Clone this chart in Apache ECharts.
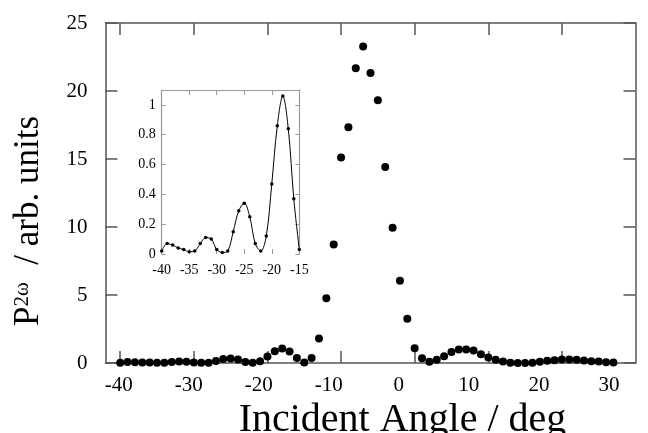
<!DOCTYPE html>
<html>
<head>
<meta charset="utf-8">
<script src="https://cdn.jsdelivr.net/npm/echarts@6/dist/echarts.min.js"></script>
<style>
  html, body { margin: 0; padding: 0; background: #fff; }
  #main { width: 648px; height: 433px; }
</style>
</head>
<body>
<div id="main"></div>
<script>
// incident angle (deg) and SHG signal
var angles = [-40, -39, -38, -37, -36, -35, -34, -33, -32, -31, -30, -29, -28, -27, -26, -25, -24, -23, -22, -21,
  -20, -19, -18, -17, -16, -15, -14, -13, -12, -11, -10, -9, -8, -7, -6, -5, -4, -3, -2, -1,
  0, 1, 2, 3, 4, 5, 6, 7, 8, 9, 10, 11, 12, 13, 14, 15, 16, 17, 18, 19,
  20, 21, 22, 23, 24, 25, 26, 27];
var power = [0.02, 0.07, 0.06, 0.04, 0.03, 0.015, 0.02, 0.07, 0.11, 0.10, 0.03, 0.01, 0.02, 0.15, 0.29, 0.34, 0.25, 0.07, 0.02, 0.12,
  0.47, 0.86, 1.06, 0.84, 0.37, 0.03, 0.37, 1.81, 4.76, 8.72, 15.11, 17.33, 21.67, 23.28, 21.32, 19.32, 14.42, 9.94, 6.05, 3.26,
  1.09, 0.35, 0.09, 0.23, 0.50, 0.80, 0.99, 0.99, 0.92, 0.65, 0.40, 0.23, 0.11, 0.01, 0.0, 0.0, 0.01, 0.09, 0.16, 0.21,
  0.26, 0.26, 0.23, 0.18, 0.13, 0.11, 0.06, 0.04];

// inset: the -40 .. -15 part, enlarged
var insetAngles = angles.slice(0, 26);
var insetPower = power.slice(0, 26);

var xTicks = [-40, -30, -20, -10, 0, 10, 20];
var xLabels = [-40, -30, -20, -10, 0, 10, 20, 30];
var insetYLabels = [0, 0.2, 0.4, 0.6, 0.8, 1];

function pairs(xs, ys) {
  var out = [];
  for (var i = 0; i < xs.length; i++) out.push([xs[i], ys[i]]);
  return out;
}

function init_chart(container) {
  var myChart = echarts.init(document.getElementById(container), null, { renderer: "canvas" });
  var serif = "Liberation Serif";
  var frame = { show: true, onZero: false, lineStyle: { color: "#555", width: 1.5 } };
  var frameIn = { show: true, onZero: false, lineStyle: { color: "#999", width: 1.2 } };

  var option = {
    animation: false,
    grid: [
      { left: 105.5, top: 23, width: 530, height: 340, outerBoundsMode: "none" },
      { left: 161.7, top: 90, width: 137.6, height: 164, outerBoundsMode: "none" },
    ],
    xAxis: [
      {
        gridIndex: 0, type: "value", position: "bottom", min: -42, max: 30,
        axisLine: frame,
        axisTick: { inside: true, length: 12, customValues: xTicks, lineStyle: { color: "#555", width: 1.5 } },
        axisLabel: { show: false },
        splitLine: { show: false },
      },
      {
        // labels only (they sit slightly off the ticks in the original)
        gridIndex: 0, type: "value", position: "bottom", min: -41.9, max: 33.8,
        axisLine: { show: false, onZero: false },
        axisTick: { show: false },
        axisLabel: { customValues: xLabels, margin: 12, fontFamily: serif, fontSize: 21, color: "#000" },
        splitLine: { show: false },
        name: "Incident Angle / deg",
        nameLocation: "middle",
        nameGap: 32,
        nameTextStyle: { fontFamily: serif, fontSize: 40, color: "#000", padding: [0, 0, 0, 64] },
      },
      {
        gridIndex: 0, type: "value", position: "top", min: -42, max: 30,
        axisLine: frame,
        axisTick: { inside: true, length: 12, customValues: xTicks, lineStyle: { color: "#555", width: 1.5 } },
        axisLabel: { show: false },
        splitLine: { show: false },
      },
      {
        gridIndex: 1, type: "value", position: "bottom", min: -40, max: -15, interval: 5,
        axisLine: { show: false, onZero: false },
        axisTick: { inside: true, length: 5, lineStyle: { color: "#999" } },
        axisLabel: { margin: 9, fontFamily: serif, fontSize: 14, color: "#000" },
        splitLine: { show: false },
      },
      {
        gridIndex: 1, type: "value", position: "top", min: -40, max: -15, interval: 5,
        axisLine: frameIn,
        axisTick: { inside: true, length: 5, lineStyle: { color: "#999" } },
        axisLabel: { show: false },
        splitLine: { show: false },
      },
    ],
    yAxis: [
      {
        gridIndex: 0, type: "value", position: "left", min: 0, max: 25, interval: 5,
        axisLine: frame,
        axisTick: { inside: true, length: 12, lineStyle: { color: "#555", width: 1.5 } },
        axisLabel: { margin: 18, fontFamily: serif, fontSize: 21, color: "#000" },
        splitLine: { show: false },
        name: "{p|P}{sup|2ω}{p|  / arb. units}",
        nameLocation: "middle",
        nameGap: 59,
        nameRotate: 90,
        nameTextStyle: {
          padding: [0, 56, 0, 0],
          rich: {
            p: { fontFamily: serif, fontSize: 35, color: "#000", verticalAlign: "bottom" },
            sup: { fontFamily: serif, fontSize: 21, color: "#000", verticalAlign: "top" },
          },
        },
      },
      {
        gridIndex: 0, type: "value", position: "right", min: 0, max: 25, interval: 5,
        axisLine: frame,
        axisTick: { inside: true, length: 12, lineStyle: { color: "#555", width: 1.5 } },
        axisLabel: { show: false },
        splitLine: { show: false },
      },
      {
        gridIndex: 1, type: "value", position: "left", min: 0, max: 1.1,
        axisLine: frameIn,
        axisTick: { inside: true, length: 4, customValues: insetYLabels, lineStyle: { color: "#999" } },
        axisLabel: { customValues: insetYLabels, margin: 6, fontFamily: serif, fontSize: 14, color: "#000" },
        splitLine: { show: false },
      },
      {
        gridIndex: 1, type: "value", position: "right", min: 0, max: 1.1,
        axisLine: frameIn,
        axisTick: { inside: true, length: 4, customValues: insetYLabels, lineStyle: { color: "#999" } },
        axisLabel: { show: false },
        splitLine: { show: false },
      },
    ],
    series: [
      {
        type: "scatter",
        xAxisIndex: 0,
        yAxisIndex: 0,
        symbol: "circle",
        symbolSize: 8,
        itemStyle: { color: "#000", opacity: 1 },
        data: pairs(angles, power),
      },
      {
        type: "line",
        xAxisIndex: 3,
        yAxisIndex: 2,
        smooth: 0.35,
        symbol: "circle",
        symbolSize: 3.5,
        showSymbol: true,
        itemStyle: { color: "#000" },
        lineStyle: { color: "#000", width: 1 },
        data: pairs(insetAngles, insetPower),
      },
    ],
  };

  myChart.setOption(option);
  window.addEventListener("resize", function () {
    myChart.resize();
  });
}

init_chart("main");
</script>
</body>
</html>
